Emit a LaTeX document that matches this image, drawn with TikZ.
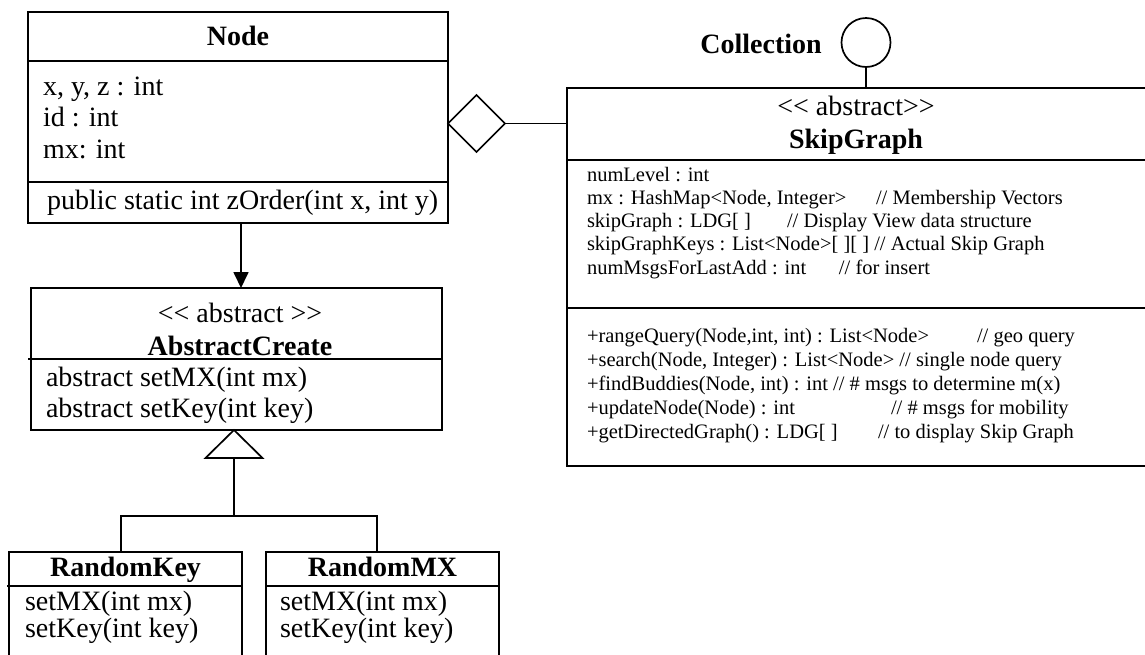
\documentclass[tikz,border=0pt]{standalone}
\usepackage{fontspec}
\setmainfont{Liberation Serif}
\usetikzlibrary{shapes.geometric,arrows.meta,calc}
\newcommand\skc[2]{\makebox[#1pt][l]{#2}}
\begin{document}
\begin{tikzpicture}[x=1pt,y=-1pt,
  ln/.style={line width=1.7pt},
  box/.style={draw, ln, inner sep=0pt, outer sep=0pt},
  big/.style={font=\fontsize{28}{30}\selectfont, inner sep=0pt, outer sep=0pt},
  bigb/.style={font=\fontsize{28}{30}\selectfont\bfseries, inner sep=0pt, outer sep=0pt},
  small/.style={font=\fontsize{20.5}{23}\selectfont, inner sep=0pt, outer sep=0pt, anchor=base west}]
\useasboundingbox (0,0) rectangle (1145,654);
\fill[white] (0,0) rectangle (1145,654);
\clip (0,0) rectangle (1145,654);

% ---------------- Node class
\node[box, minimum width=420pt, minimum height=211pt] (nodebox) at (238,117.5) {};
\draw[ln] (nodebox.west |- 0,61) -- (nodebox.east |- 0,61);
\draw[ln] (nodebox.west |- 0,182) -- (nodebox.east |- 0,182);
\node[bigb, anchor=base] (nodeT) at (238,45) {Node};
\node[big, anchor=base west] (nodeA1) at (43,95) {x, y, z : int};
\node[big, anchor=base west] (nodeA2) at (43,126.5) {id : int};
\node[big, anchor=base west] (nodeA3) at (43,158) {mx: int};
\node[big, anchor=base west] (nodeM1) at (47,209) {public static int zOrder(int x, int y)};

% ---------------- AbstractCreate
\node[box, minimum width=411pt, minimum height=142pt] (ac) at (236.5,359) {};
\draw[ln] ($(ac.west)+(-3,0)$) -- (ac.east);
\node[big, anchor=base] (acS) at (240,322) {<\kern0pt< abstract >\kern0pt>};
\node[bigb, anchor=base] (acT) at (240,355) {AbstractCreate};
\node[big, anchor=base west] (acM1) at (46,386) {abstract setMX(int mx)};
\node[big, anchor=base west] (acM2) at (46,417) {abstract setKey(int key)};

% ---------------- RandomKey / RandomMX
\node[box, minimum width=233pt, minimum height=148pt] (rk) at (125.5,626) {};
\draw[ln] ($(rk.west |- 0,586)+(-2,0)$) -- (rk.east |- 0,586);
\node[bigb, anchor=base] (rkT) at (125.5,576) {RandomKey};
\node[big, anchor=base west] (rkM1) at (25,610) {setMX(int mx)};
\node[big, anchor=base west] (rkM2) at (25,637) {setKey(int key)};

\node[box, minimum width=233pt, minimum height=148pt] (rm) at (382.5,626) {};
\draw[ln] (rm.west |- 0,586) -- (rm.east |- 0,586);
\node[bigb, anchor=base] (rmT) at (382.5,576) {RandomMX};
\node[big, anchor=base west] (rmM1) at (280,610) {setMX(int mx)};
\node[big, anchor=base west] (rmM2) at (280,637) {setKey(int key)};

% ---------------- SkipGraph
\node[box, line width=2pt, minimum width=583pt, minimum height=378pt] (sg) at (858.5,277) {};
\draw[line width=2pt] (sg.west |- 0,160) -- (sg.east |- 0,160);
\draw[line width=2pt] (sg.west |- 0,308) -- (sg.east |- 0,308);
\node[big, anchor=base] (sgS) at (856,115) {<\kern0pt< abstract>\kern0pt>};
\node[bigb, anchor=base] (sgT) at (856,148) {SkipGraph};
\node[small] (sgA1) at (587,181) {numLevel : int};
\node[small] (sgA2) at (587,204.3) {\skc{289}{mx : HashMap<Node, Integer>}// Membership Vectors};
\node[small] (sgA3) at (587,227.6) {\skc{200}{skipGraph : LDG[ ]}// Display View data structure};
\node[small] (sgA4) at (587,250.9) {skipGraphKeys : List<Node>[ ][ ] // Actual Skip Graph};
\node[small] (sgA5) at (587,274.2) {\skc{252}{numMsgsForLastAdd : int}// for insert};
\node[small] (sgM1) at (587,342) {\skc{390}{+rangeQuery(Node,int, int) : List<Node>}// geo query};
\node[small] (sgM2) at (587,366.1) {+search(Node, Integer) : List<Node> // single node query};
\node[small] (sgM3) at (587,390.2) {+findBuddies(Node, int) : int // \# msgs to determine m(x)};
\node[small] (sgM4) at (587,414.3) {\skc{304}{+updateNode(Node) : int}// \# msgs for mobility};
\node[small] (sgM5) at (587,438.4) {\skc{291}{+getDirectedGraph() : LDG[ ]}// to display Skip Graph};

% ---------------- Collection interface
\node[circle, draw, ln, minimum size=49pt, inner sep=0pt, outer sep=0pt] (coll) at (866,42.5) {};
\node[bigb, anchor=base] (collT) at (761,53) {Collection};
\draw[ln] (coll.south) -- (coll.south |- sg.north);

% ---------------- Aggregation diamond
\node[diamond, draw, ln, minimum width=57pt, minimum height=57pt, inner sep=0pt, outer sep=0pt, anchor=west] (dia) at (nodebox.east |- 0,123.5) {};
\draw[ln] (dia.east) -- (dia.east -| sg.west);

% ---------------- Association arrow Node -> AbstractCreate
\coordinate (aX) at (241,0);
\draw[ln, -{Triangle[width=15pt,length=16pt]}] (nodebox.south -| aX) -- (ac.north -| aX);

% ---------------- Generalization
\coordinate (gX) at (234,0);
\coordinate (gapex) at (ac.south -| gX);
\draw[ln, line join=miter] (gapex) -- ++(28.5,28) -- ++(-57,0) -- cycle;
\coordinate (gbase) at ($(gapex)+(0,28)$);
\coordinate (gjoin) at ($(gapex)+(0,86)$);
\coordinate (rkX) at (121,0);
\coordinate (rmX) at (377,0);
\draw[ln] (gbase) -- (gjoin);
\draw[ln] (rk.north -| rkX) |- (rmX |- gjoin) -- (rm.north -| rmX);
\end{tikzpicture}
\end{document}
